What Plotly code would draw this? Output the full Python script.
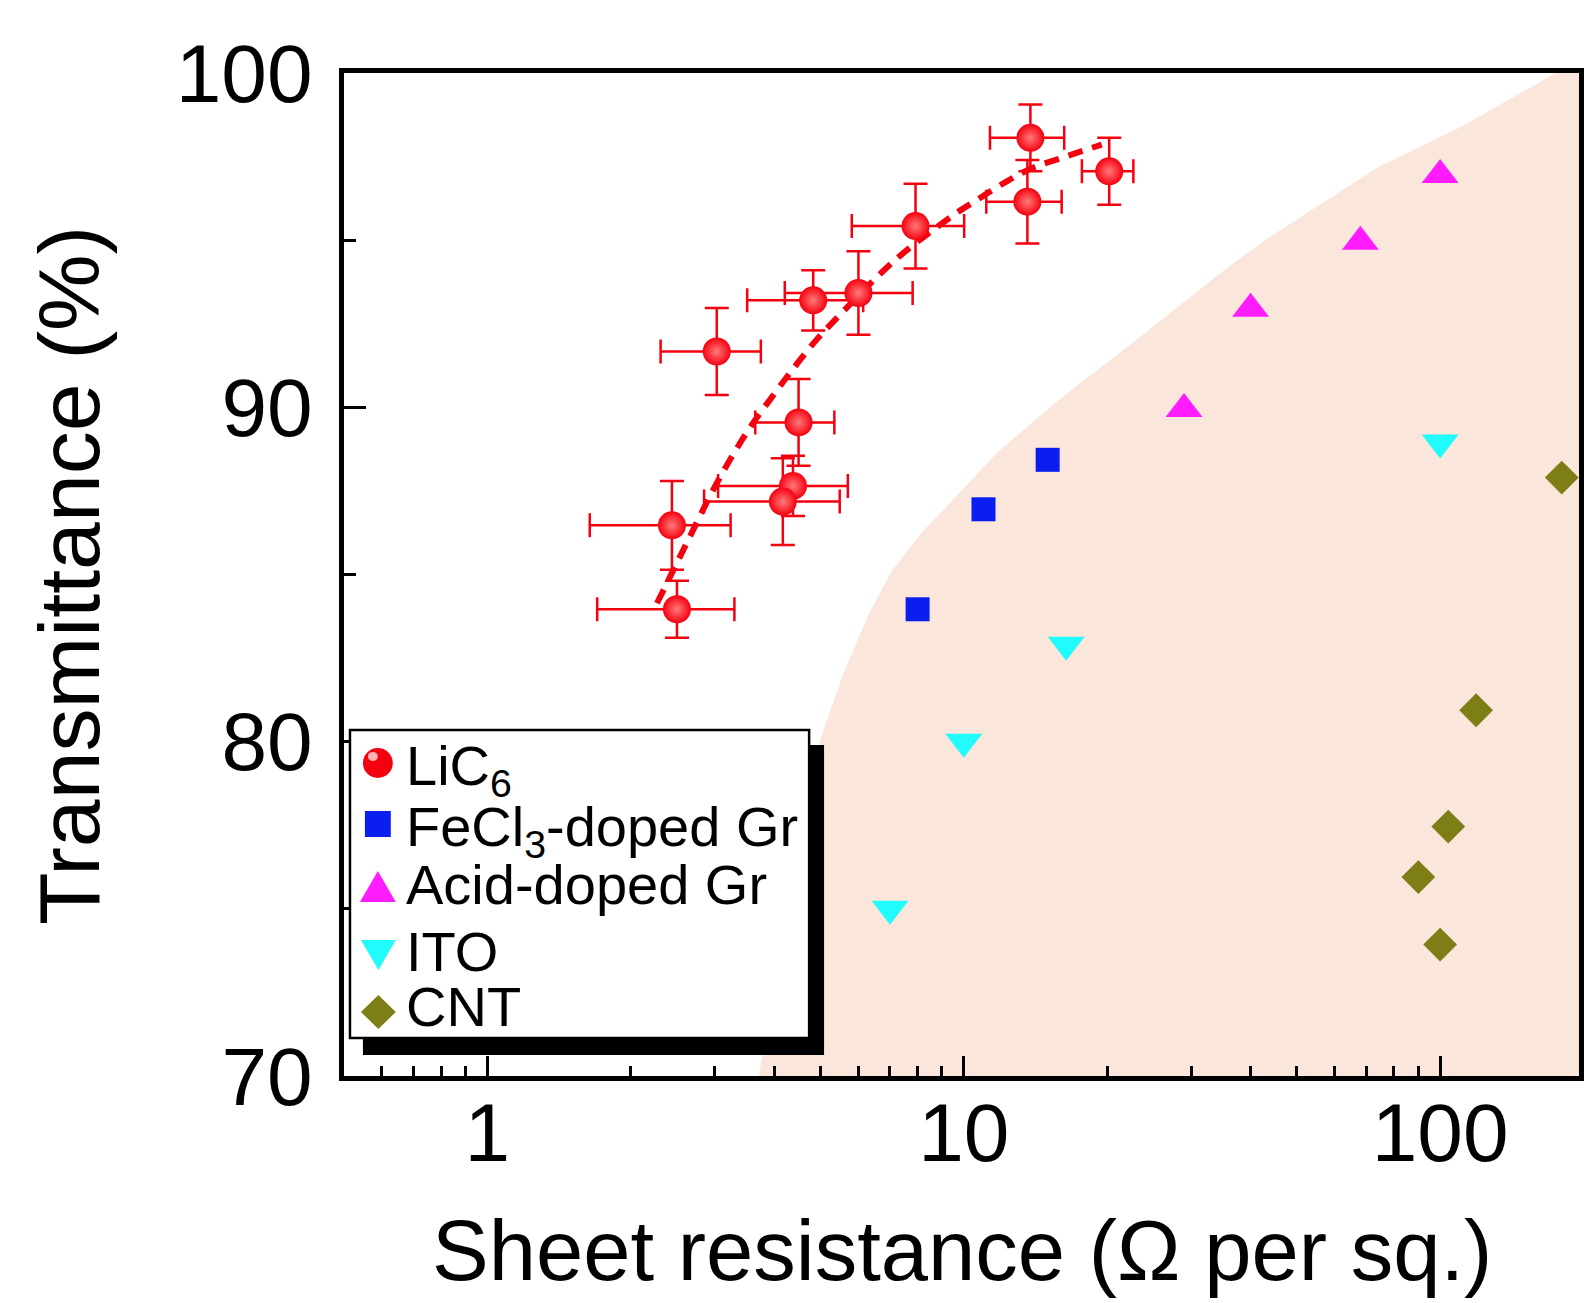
import math
import plotly.graph_objects as go

# ---------------- data ----------------
lic6_x = [13.8, 20.2, 13.6, 7.92, 4.83, 6.01, 3.03, 4.50, 4.38, 4.17, 2.44, 2.50]
lic6_y = [98.06, 97.06, 96.15, 95.42, 93.20, 93.42, 91.67, 89.55, 87.65, 87.18, 86.47, 83.96]
lic6_xerr = [2.45, 2.5, 2.45, 2.1, 1.32, 1.8, 0.72, 0.85, 1.33, 1.32, 0.8, 0.8]
lic6_yerr = [1.0, 1.0, 1.25, 1.27, 0.9, 1.25, 1.3, 1.3, 0.9, 1.3, 1.33, 0.85]

fit_x = [2.27, 2.60, 3.03, 3.53, 4.01, 4.41, 4.86, 5.38, 7.13, 9.45, 10.68, 12.31, 13.93, 16.04, 19.48]
fit_y = [84.14, 85.84, 87.73, 89.32, 90.42, 91.20, 91.95, 92.63, 94.37, 95.72, 96.21, 96.76, 97.16, 97.46, 97.86]

fecl3_x = [8.0, 11.0, 15.0]
fecl3_y = [83.96, 86.95, 88.43]

acid_x = [29.0, 40.0, 68.0, 100.0]
acid_y = [89.95, 92.95, 94.95, 96.95]

ito_x = [7.0, 10.0, 16.4, 100.0]
ito_y = [75.0, 80.0, 82.9, 88.95]

cnt_x = [90.0, 100.0, 104.0, 119.0, 180.0]
cnt_y = [75.95, 73.93, 77.46, 80.94, 87.9]

# boundary of the shaded region (performance limit)
shade_x = [3.72, 4.0, 4.4, 5.01, 5.55, 6.30, 7.07, 8.15, 9.69, 11.77, 15.80, 23.2, 35.2,
           42.4, 55.6, 74.2, 110.7, 175.0, 400.0, 400.0]
shade_y = [70.0, 73.2, 76.8, 80.10, 81.93, 83.79, 85.11, 86.25, 87.37, 88.66, 90.21, 92.05,
           94.10, 94.95, 96.04, 97.19, 98.39, 100.0, 100.0, 70.0]

x_tick_vals = [1, 10, 100]
x_tick_text = ["1", "10", "100"]
y_tick_vals = [70, 80, 90, 100]
y_tick_text = ["70", "80", "90", "100"]
y_minor_vals = [75, 85, 95]

legend_names = ["LiC<sub>6</sub>", "FeCl<sub>3</sub>-doped Gr", "Acid-doped Gr", "ITO", "CNT"]

# ---------------- style ----------------
RED = "#f5000f"
BLUE = "#0a1ef0"
MAGENTA = "#ff1cff"
CYAN = "#22fbfb"
OLIVE = "#7e7e16"
SHADE = "#fae6da"
FONT = "Liberation Sans, Arial, Helvetica, sans-serif"

W, H = 1584, 1303
L, R, T, B = 344, 0, 73, 227
PW, PH = W - L - R, H - T - B

x_lo = math.log10(0.5)
x_hi = x_lo + PW / 478.3

minor_x = [d * m for d in (0.1, 1, 10, 100) for m in range(2, 10)]


def px(xpix):
    return (xpix - L) / PW


def py(ypix):
    return (H - B - ypix) / PH


fig = go.Figure()

fig.add_trace(go.Scatter(x=shade_x, y=shade_y, mode="lines", fill="toself",
                         fillcolor=SHADE, line=dict(width=0, color=SHADE),
                         hoverinfo="skip", showlegend=False))

fig.add_trace(go.Scatter(x=fit_x, y=fit_y, mode="lines",
                         line=dict(color=RED, width=6, dash="15px,10px", shape="spline"),
                         showlegend=False))

fig.add_trace(go.Scatter(
    x=lic6_x, y=lic6_y, mode="markers", name="LiC6", showlegend=False,
    error_x=dict(type="data", array=lic6_xerr, color=RED, thickness=2.5, width=12),
    error_y=dict(type="data", array=lic6_yerr, color=RED, thickness=2.5, width=12),
    marker=dict(size=28, color=RED, line=dict(width=0),
                gradient=dict(type="radial", color="#ff7a7a"))))

fig.add_trace(go.Scatter(x=fecl3_x, y=fecl3_y, mode="markers", showlegend=False,
                         marker=dict(symbol="square", size=24, color=BLUE, line=dict(width=0))))
fig.add_trace(go.Scatter(x=acid_x, y=acid_y, mode="markers", showlegend=False,
                         marker=dict(symbol="triangle-up", size=32, color=MAGENTA, line=dict(width=0))))
fig.add_trace(go.Scatter(x=ito_x, y=ito_y, mode="markers", showlegend=False,
                         marker=dict(symbol="triangle-down", size=32, color=CYAN, line=dict(width=0))))
fig.add_trace(go.Scatter(x=cnt_x, y=cnt_y, mode="markers", showlegend=False,
                         marker=dict(symbol="diamond", size=26, color=OLIVE, line=dict(width=0))))

# ---------------- manual legend (box with drop shadow) ----------------
shapes = []
shapes.append(dict(type="rect", xref="paper", yref="paper", layer="above",
                   x0=px(363), x1=px(826), y0=py(745), y1=py(1055),
                   fillcolor="black", line=dict(width=0)))
shapes.append(dict(type="rect", xref="paper", yref="paper", layer="above",
                   x0=px(350), x1=px(811), y0=py(730), y1=py(1038),
                   fillcolor="white", line=dict(color="black", width=2.5)))
shapes.append(dict(type="circle", xref="paper", yref="paper", layer="above",
                   x0=px(363), x1=px(393), y0=py(748), y1=py(778),
                   fillcolor=RED, line=dict(width=0)))
shapes.append(dict(type="circle", xref="paper", yref="paper", layer="above",
                   x0=px(368), x1=px(378), y0=py(752), y1=py(761),
                   fillcolor="rgba(255,210,210,0.85)", line=dict(width=0)))
shapes.append(dict(type="rect", xref="paper", yref="paper", layer="above",
                   x0=px(365), x1=px(391), y0=py(811), y1=py(837),
                   fillcolor=BLUE, line=dict(width=0)))


def path(points):
    return "M " + " L ".join(f"{px(a):.5f},{py(b):.5f}" for a, b in points) + " Z"


shapes.append(dict(type="path", xref="paper", yref="paper", layer="above",
                   path=path([(360, 902), (396, 902), (378, 871)]),
                   fillcolor=MAGENTA, line=dict(width=0)))
shapes.append(dict(type="path", xref="paper", yref="paper", layer="above",
                   path=path([(361, 940), (396, 940), (378.5, 970)]),
                   fillcolor=CYAN, line=dict(width=0)))
shapes.append(dict(type="path", xref="paper", yref="paper", layer="above",
                   path=path([(361, 1012), (378.5, 995), (396, 1012), (378.5, 1029)]),
                   fillcolor=OLIVE, line=dict(width=0)))

annotations = []
legend_rows = [770, 830, 884, 951, 1006]
for name, yrow in zip(legend_names, legend_rows):
    annotations.append(dict(text=name, xref="paper", yref="paper", x=px(404), y=py(yrow),
                            xanchor="left", yanchor="middle", showarrow=False,
                            font=dict(size=56, color="black", family=FONT)))

# axis titles
annotations.append(dict(text="Sheet resistance (\u03a9 per sq.)", xref="paper", yref="paper",
                        x=px(965), y=py(1250), xanchor="center", yanchor="middle",
                        showarrow=False, font=dict(size=85, color="black", family=FONT)))
annotations.append(dict(text="Transmittance (%)", xref="paper", yref="paper",
                        x=px(68), y=py(576), xanchor="center", yanchor="middle",
                        textangle=-90, showarrow=False,
                        font=dict(size=86, color="black", family=FONT)))

fig.update_layout(
    width=W, height=H,
    margin=dict(l=L, r=R, t=T, b=B, pad=0),
    paper_bgcolor="white", plot_bgcolor="white",
    font=dict(family=FONT, color="black"),
    shapes=shapes, annotations=annotations,
    showlegend=False,
)

fig.update_xaxes(
    type="log", range=[x_lo, x_hi],
    showline=True, linecolor="black", linewidth=5, mirror=True,
    showgrid=False, zeroline=False,
    ticks="inside", ticklen=20, tickwidth=3, tickcolor="black",
    tickvals=x_tick_vals, ticktext=x_tick_text,
    tickfont=dict(size=82, family=FONT, color="black"),
    ticklabelstandoff=-18,
    minor=dict(tickvals=minor_x, ticks="inside", ticklen=10, tickwidth=3,
               tickcolor="black", showgrid=False),
)
fig.update_yaxes(
    range=[70, 100],
    showline=True, linecolor="black", linewidth=5, mirror=True,
    showgrid=False, zeroline=False,
    ticks="inside", ticklen=22, tickwidth=3, tickcolor="black",
    tickvals=y_tick_vals, ticktext=y_tick_text,
    tickfont=dict(size=82, family=FONT, color="black"),
    ticklabelstandoff=10,
    minor=dict(tickvals=y_minor_vals, ticks="inside", ticklen=12, tickwidth=3,
               tickcolor="black", showgrid=False),
)

fig.write_html("out.html")
